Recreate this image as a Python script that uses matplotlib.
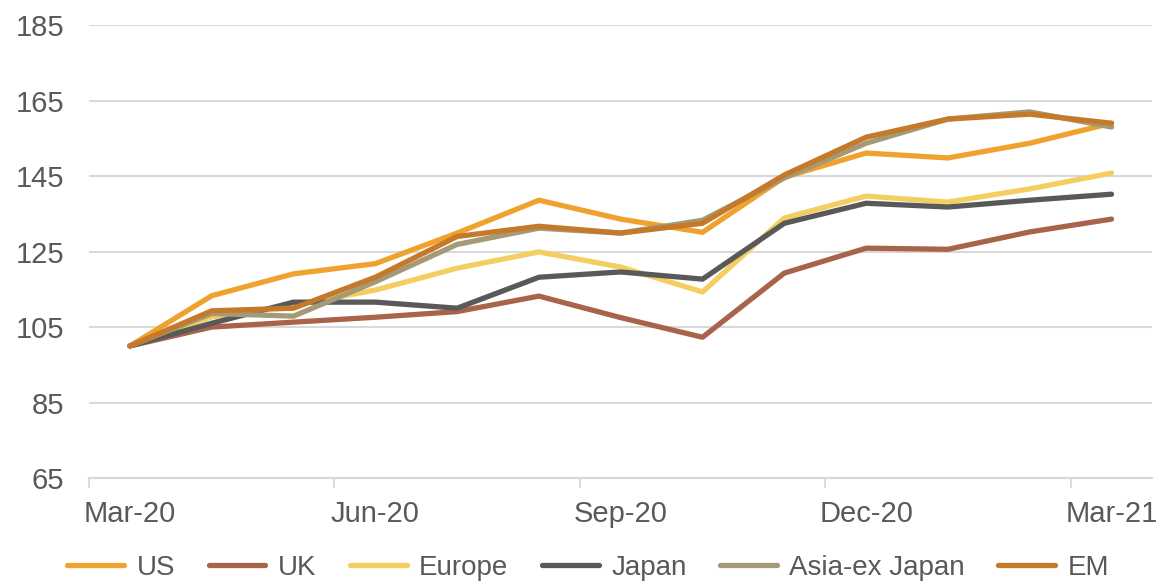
import matplotlib
matplotlib.use("Agg")
import matplotlib.pyplot as plt

# monthly index values, Mar-20 = 100
months = ["Mar-20", "Apr-20", "May-20", "Jun-20", "Jul-20", "Aug-20", "Sep-20",
          "Oct-20", "Nov-20", "Dec-20", "Jan-21", "Feb-21", "Mar-21"]
us = [100, 113.3, 119.1, 121.8, 129.9, 138.6, 133.6, 130.1, 144.7, 151.1, 149.8, 153.7, 159.0]
uk = [100, 105.0, 106.3, 107.6, 109.1, 113.2, 107.5, 102.3, 119.3, 125.9, 125.6, 130.2, 133.6]
europe = [100, 107.7, 110.8, 114.8, 120.6, 124.9, 120.9, 114.3, 133.9, 139.7, 138.1, 141.6, 145.8]
japan = [100, 106.0, 111.6, 111.6, 110.0, 118.2, 119.6, 117.7, 132.5, 137.8, 136.8, 138.6, 140.2]
asia_ex_japan = [100, 108.6, 107.9, 117.0, 126.9, 131.2, 129.9, 133.3, 144.5, 153.7, 160.1, 162.0, 158.0]
em = [100, 109.3, 110.0, 118.2, 129.0, 131.7, 129.9, 132.5, 145.3, 155.3, 160.1, 161.4, 159.0]

series = [("US", us, "#F0A22E"),
          ("UK", uk, "#A8644A"),
          ("Europe", europe, "#F5CE62"),
          ("Japan", japan, "#595959"),
          ("Asia-ex Japan", asia_ex_japan, "#A59A75"),
          ("EM", em, "#C47A2A")]

plt.rcParams['font.family'] = ['Liberation Sans', 'DejaVu Sans']
txt = "#595959"
grid = "#D9D9D9"

fig = plt.figure(figsize=(11.58, 5.83), dpi=100)
ax = fig.add_axes([0.0769, 0.18, 0.9183, 0.777])

x = list(range(len(months)))
for name, vals, col in series:
    ax.plot(x, vals, color=col, lw=3.8, label=name, solid_capstyle="round", solid_joinstyle="round")

ax.set_ylim(65, 185)
ax.set_yticks(range(65, 186, 20))
ax.set_xlim(-0.5, 12.5)

# tick marks sit between months, labels on the quarter months
ax.set_xticks([-0.5, 2.5, 5.5, 8.5, 11.5])
ax.set_xticklabels([])
ax.set_xticks(x[::3], minor=True)
ax.set_xticklabels(months[::3], minor=True)
ax.tick_params(axis="x", which="major", length=7, width=1.3, color=grid)
ax.tick_params(axis="x", which="minor", length=0, pad=16, labelsize=21, labelcolor=txt)
ax.tick_params(axis="y", length=0, pad=18, labelsize=21, labelcolor=txt)

ax.grid(axis="y", color=grid, lw=1.5)
ax.set_axisbelow(True)
for s in ["top", "right", "left"]:
    ax.spines[s].set_visible(False)
ax.spines["bottom"].set_color(grid)
ax.spines["bottom"].set_linewidth(1.5)

fig.legend(loc="center", bbox_to_anchor=(0.508, 0.026), ncol=6, frameon=False,
           fontsize=20, labelcolor=txt, handlelength=2.05, handletextpad=0.45,
           columnspacing=1.2, borderpad=0.2)

fig.savefig("out.png", dpi=100)
